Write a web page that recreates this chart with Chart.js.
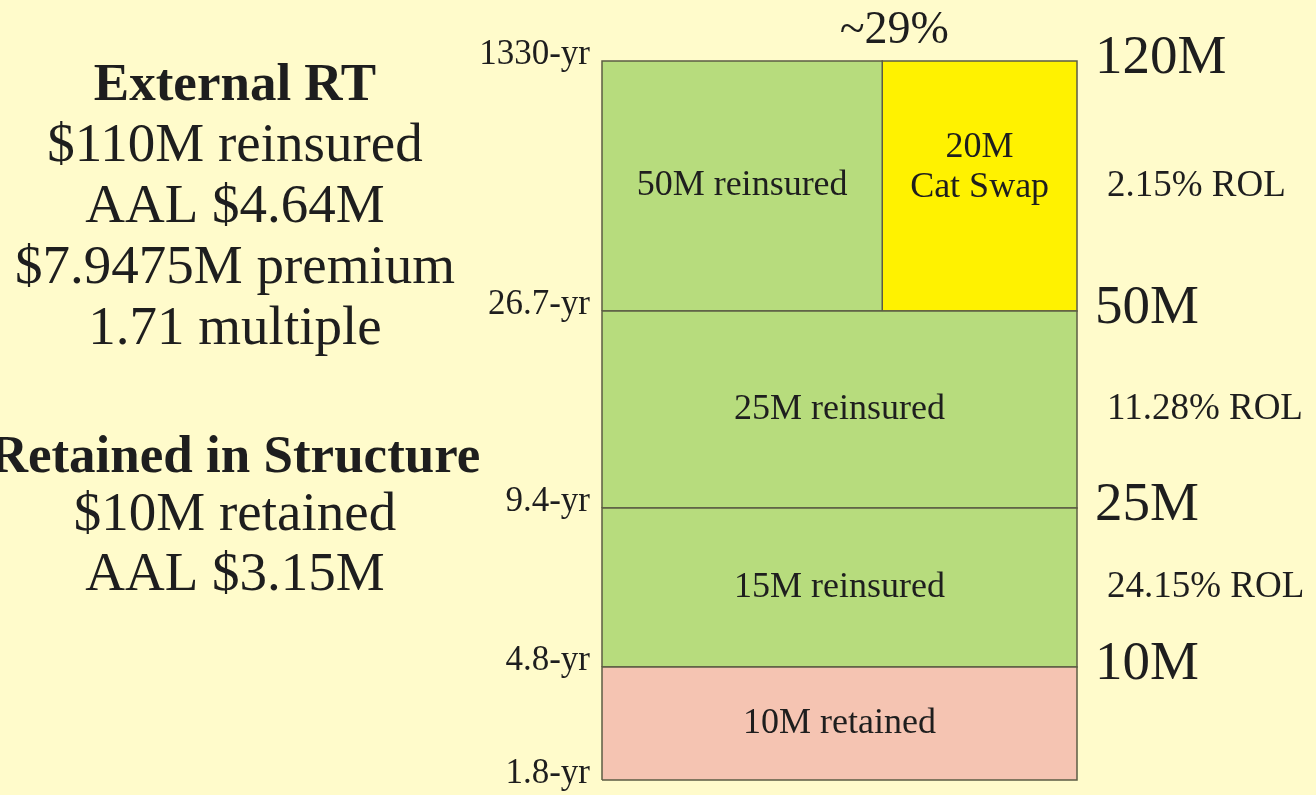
<!DOCTYPE html>
<html>
<head>
<meta charset="utf-8">
<script src="https://cdn.jsdelivr.net/npm/chart.js@4/dist/chart.umd.min.js"></script>
<style>
  html, body { margin: 0; padding: 0; background: #FFFBCB; }
  #wrap { width: 1316px; height: 795px; position: relative; }
</style>
</head>
<body>
<div id="wrap"><canvas id="c" width="1316" height="795"></canvas></div>
<script>
// ---------------- data ----------------
const returnPeriods = ['1.8-yr', '4.8-yr', '9.4-yr', '26.7-yr', '1330-yr'];
const limitLabels   = ['', '10M', '25M', '50M', '120M'];
const layerLabels   = ['10M retained', '15M reinsured', '25M reinsured', '50M reinsured', '20M\nCat Swap'];
const rolLabels     = ['', '24.15% ROL', '11.28% ROL', '2.15% ROL'];
const catSwapNote   = '~29%';
// schematic (not-to-scale) depth of each band of the tower, bottom to top, as drawn
const bandDepth     = [113, 159, 197, 250];
// drawn share of the top band's width given to the cat swap
const catSwapDrawnShare = 0.41;
const externalSummary = ['External RT', '$110M reinsured', 'AAL $4.64M', '$7.9475M premium', '1.71 multiple'];
const retainedSummary = ['Retained in Structure', '$10M retained', 'AAL $3.15M'];

// ---------------- build ----------------
const edges = [0];
bandDepth.forEach(d => edges.push(edges[edges.length - 1] + d));

const FONT = '"Liberation Serif", "Times New Roman", serif';
const INK = '#1e1e1e';
const EDGE = '#5c5c44';
const GREEN = '#B7DC7D', PINK = '#F5C4B2', YELLOW = '#FFF200';

const split = 1 - catSwapDrawnShare;
const rects = [
  { band: 0, x0: 0, x1: 1, color: PINK,   label: layerLabels[0] },
  { band: 1, x0: 0, x1: 1, color: GREEN,  label: layerLabels[1] },
  { band: 2, x0: 0, x1: 1, color: GREEN,  label: layerLabels[2] },
  { band: 3, x0: 0, x1: split, color: GREEN,  label: layerLabels[3] },
  { band: 3, x0: split, x1: 1, color: YELLOW, label: layerLabels[4] }
];

const datasets = rects.map(r => {
  const y0 = edges[r.band], y1 = edges[r.band + 1];
  return {
    label: r.label,
    data: [{x: r.x0, y: y0}, {x: r.x0, y: y1}, {x: r.x1, y: y1}, {x: r.x1, y: y0}, {x: r.x0, y: y0}],
    showLine: true,
    fill: 'shape',
    backgroundColor: r.color,
    borderColor: EDGE,
    borderWidth: 1.5,
    pointRadius: 0,
    pointHoverRadius: 0,
    tension: 0,
    clip: false
  };
});

const bgPlugin = {
  id: 'bg',
  beforeDraw(chart) {
    const c = chart.ctx;
    c.save();
    c.fillStyle = '#FFFBCB';
    c.fillRect(0, 0, chart.width, chart.height);
    c.restore();
  }
};

const textPlugin = {
  id: 'texts',
  afterDraw(chart) {
    const c = chart.ctx;
    const xs = chart.scales.x, ys = chart.scales.y;
    const area = chart.chartArea;
    c.save();
    c.fillStyle = INK;

    // labels inside the layers
    c.font = '36px ' + FONT;
    c.textAlign = 'center';
    c.textBaseline = 'middle';
    rects.forEach(r => {
      const cx = xs.getPixelForValue((r.x0 + r.x1) / 2);
      const cy = ys.getPixelForValue((edges[r.band] + edges[r.band + 1]) / 2);
      const lines = r.label.split('\n');
      const lh = 40;
      const start = cy - (lines.length - 1) * lh / 2 - (lines.length > 1 ? 18 : 0);
      lines.forEach((t, i) => c.fillText(t, cx, start + i * lh));
    });

    // rate on line labels at right of each band
    c.font = '37px ' + FONT;
    c.textAlign = 'left';
    rolLabels.forEach((t, i) => {
      if (!t) return;
      const cy = ys.getPixelForValue((edges[i] + edges[i + 1]) / 2);
      c.fillText(t, area.right + 30, cy);
    });

    // ~29% note above the cat swap split
    c.font = '46px ' + FONT;
    c.textAlign = 'center';
    c.textBaseline = 'alphabetic';
    c.fillText(catSwapNote, xs.getPixelForValue(split) + 12, area.top - 18);

    // left summary block
    const cx = 235;
    const b1 = [100, 161, 222, 283, 344];
    externalSummary.forEach((t, i) => {
      c.font = (i === 0 ? 'bold 53px ' : '55px ') + FONT;
      c.fillText(t, cx, b1[i]);
    });
    const b2 = [472, 530, 590];
    retainedSummary.forEach((t, i) => {
      c.font = (i === 0 ? 'bold 53px ' : '55px ') + FONT;
      c.fillText(t, cx, b2[i]);
    });
    c.restore();
  }
};

function edgeTicks(scale) { scale.ticks = edges.map(v => ({ value: v })); }

new Chart(document.getElementById('c'), {
  type: 'scatter',
  data: { datasets },
  options: {
    responsive: false,
    animation: false,
    events: [],
    layout: { padding: { left: 0, right: 0, top: 61, bottom: 15 } },
    plugins: { legend: { display: false }, tooltip: { enabled: false } },
    scales: {
      x: { type: 'linear', min: 0, max: 1, display: false },
      y: {
        type: 'linear', position: 'left', min: 0, max: edges[edges.length - 1],
        afterBuildTicks: edgeTicks,
        ticks: {
          autoSkip: false,
          callback: (v, i) => returnPeriods[i],
          font: { family: FONT, size: 35 },
          color: INK, padding: 12, labelOffset: -6
        },
        grid: { display: false, drawTicks: false },
        border: { display: false },
        afterFit(s) { s.width = 602; s.paddingTop = 0; s.paddingBottom = 0; }
      },
      y2: {
        type: 'linear', position: 'right', min: 0, max: edges[edges.length - 1],
        afterBuildTicks: edgeTicks,
        ticks: {
          autoSkip: false,
          callback: (v, i) => limitLabels[i],
          font: { family: FONT, size: 55 },
          color: INK, padding: 18, labelOffset: -2
        },
        grid: { display: false, drawTicks: false },
        border: { display: false },
        afterFit(s) { s.width = 239; s.paddingTop = 0; s.paddingBottom = 0; }
      }
    }
  },
  plugins: [bgPlugin, textPlugin]
});
</script>
</body>
</html>
